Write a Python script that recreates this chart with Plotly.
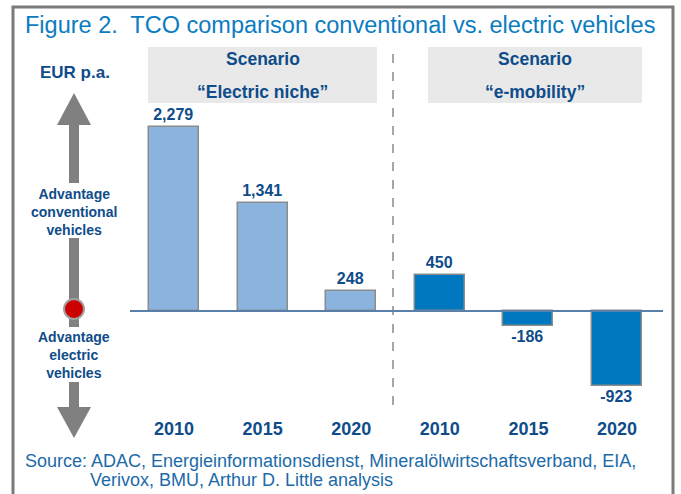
import plotly.graph_objects as go

# ---- data ----
years = ["2010", "2015", "2020", "2010", "2015", "2020"]
values = [2279, 1341, 248, 450, -186, -923]
scenario = ["Electric niche"] * 3 + ["e-mobility"] * 3
scenario_names = ["“Electric niche”", "“e-mobility”"]
scenario_word = "Scenario"
title_text = "Figure 2.  TCO comparison conventional vs. electric vehicles"
source_lines = ["Source: ADAC, Energieinformationsdienst, Mineralölwirtschaftsverband, EIA,",
                "Verivox, BMU, Arthur D. Little analysis"]

W, H = 681, 494
B = 82
PH = H - B  # plot area height in px


def px(x):
    return x / W


def py(y):
    return (PH - y) / PH


DARK = "#0f4c8a"
LIGHT_BAR = "#8ab4dd"
DARK_BAR = "#0078c1"
BOLD = "Liberation Sans, Arial, sans-serif"
NARROW = "Liberation Sans Narrow, Arial Narrow, Liberation Sans, sans-serif"

xpos = list(range(len(values)))
colors = [LIGHT_BAR if s == "Electric niche" else DARK_BAR for s in scenario]

fig = go.Figure()
fig.add_trace(go.Bar(
    x=xpos, y=values, width=0.565,
    marker=dict(color=colors, line=dict(color="#8c8c8c", width=1.5)),
    texttemplate="<b>%{y:,}</b>", textposition="outside",
    textfont=dict(family=BOLD, size=16, color=DARK),
    constraintext="none", cliponaxis=False, hoverinfo="skip",
))

shapes = []
# outer frame
shapes.append(dict(type="rect", xref="paper", yref="paper",
                   x0=px(13), x1=px(673), y0=py(530), y1=py(7),
                   line=dict(color="#7a7a7a", width=3), layer="below"))
# scenario boxes
for (a, b) in [(148, 377), (428, 642)]:
    shapes.append(dict(type="rect", xref="paper", yref="paper",
                       x0=px(a), x1=px(b), y0=py(103), y1=py(47),
                       fillcolor="#e9e9e9", line=dict(width=0), layer="below"))
# divider
shapes.append(dict(type="line", xref="paper", yref="paper",
                   x0=px(393), x1=px(393), y0=py(405), y1=py(52),
                   line=dict(color="#8a8a8a", width=1.5, dash="dash")))
# zero line
shapes.append(dict(type="line", xref="paper", yref="y",
                   x0=px(130), x1=px(663), y0=0, y1=0,
                   line=dict(color="#5a7fa8", width=2)))

GRAY = "#808080"


def tri(p):
    return "M " + " L ".join(f"{px(a)},{py(b)}" for a, b in p) + " Z"


shapes.append(dict(type="path", xref="paper", yref="paper",
                   path=tri([(57, 125), (91, 125), (74, 93)]),
                   fillcolor=GRAY, line=dict(width=0)))
shapes.append(dict(type="path", xref="paper", yref="paper",
                   path=tri([(57, 407), (91, 407), (74, 438)]),
                   fillcolor=GRAY, line=dict(width=0)))
for (a, b) in [(124, 183), (238, 327), (382, 408)]:
    shapes.append(dict(type="rect", xref="paper", yref="paper",
                       x0=px(69), x1=px(79), y0=py(b), y1=py(a),
                       fillcolor=GRAY, line=dict(width=0)))
shapes.append(dict(type="circle", xref="paper", yref="paper",
                   x0=px(64), x1=px(84), y0=py(319), y1=py(299),
                   fillcolor="#cc0000", line=dict(color="#a0a0a0", width=2)))

ann = []
ann.append(dict(text=title_text, xref="paper", yref="paper", x=px(23), y=py(25),
                xanchor="left", yanchor="middle", showarrow=False,
                font=dict(family=NARROW, size=23.5, color="#0a7cc1")))
for t, c in zip(scenario_names, [262.5, 535]):
    ann.append(dict(text="<b>" + scenario_word + "</b>", xref="paper", yref="paper", x=px(c), y=py(59),
                    xanchor="center", yanchor="middle", showarrow=False,
                    font=dict(family=BOLD, size=17.5, color=DARK)))
    ann.append(dict(text="<b>" + t + "</b>", xref="paper", yref="paper", x=px(c), y=py(92),
                    xanchor="center", yanchor="middle", showarrow=False,
                    font=dict(family=BOLD, size=17.5, color=DARK)))
ann.append(dict(text="<b>EUR p.a.</b>", xref="paper", yref="paper", x=px(75), y=py(72),
                xanchor="center", yanchor="middle", showarrow=False,
                font=dict(family=BOLD, size=17, color=DARK)))
ann.append(dict(text="<b>Advantage<br>conventional<br>vehicles</b>", xref="paper", yref="paper",
                x=px(74), y=py(212), xanchor="center", yanchor="middle", showarrow=False,
                font=dict(family=BOLD, size=14, color=DARK)))
ann.append(dict(text="<b>Advantage<br>electric<br>vehicles</b>", xref="paper", yref="paper",
                x=px(74), y=py(355), xanchor="center", yanchor="middle", showarrow=False,
                font=dict(family=BOLD, size=14, color=DARK)))
ann.append(dict(text=source_lines[0], xref="paper", yref="paper", x=px(23), y=py(461),
                xanchor="left", yanchor="middle", showarrow=False,
                font=dict(family=NARROW, size=18, color="#1d6aa8")))
ann.append(dict(text=source_lines[1], xref="paper", yref="paper", x=px(88), y=py(480),
                xanchor="left", yanchor="middle", showarrow=False,
                font=dict(family=NARROW, size=18, color="#1d6aa8")))

fig.update_layout(
    width=W, height=H, margin=dict(l=0, r=0, t=0, b=B),
    paper_bgcolor="white", plot_bgcolor="rgba(0,0,0,0)",
    showlegend=False, shapes=shapes, annotations=ann, bargap=0,
    xaxis=dict(range=[-1.964, 5.722], tickvals=xpos, ticktext=["<b>%s</b>" % y for y in years],
               tickfont=dict(family=BOLD, size=18, color=DARK), showgrid=False,
               zeroline=False, showline=False, ticks="", ticklabelstandoff=4, fixedrange=True),
    yaxis=dict(range=[-1251, 3852], visible=False, showgrid=False, zeroline=False, fixedrange=True),
)

fig.write_html("out.html", config={"displayModeBar": False},
               post_script="document.body.style.margin='0px';document.body.style.overflow='hidden';")
